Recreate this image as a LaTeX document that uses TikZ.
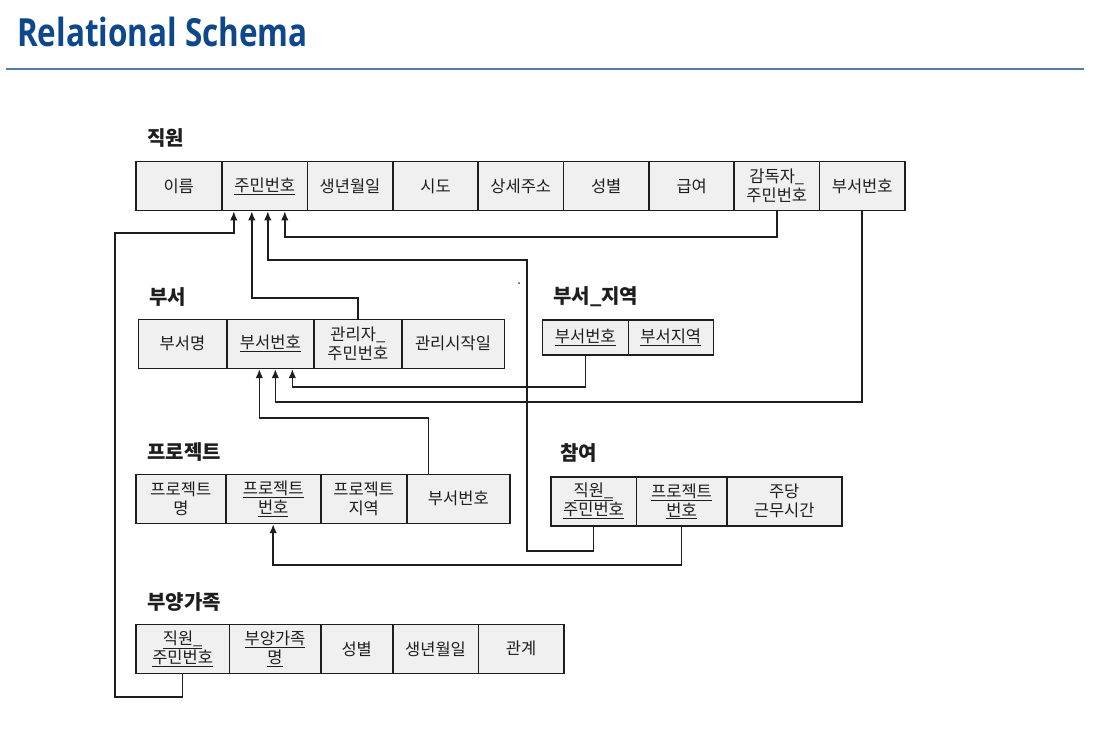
\documentclass[tikz,border=0pt]{standalone}
\usepackage{fontspec}
\usepackage{graphicx}
\usetikzlibrary{arrows.meta}
\setmainfont{Noto Sans CJK KR}
\newfontfamily\titlefont{Open Sans}
\definecolor{titleblue}{RGB}{14,72,140}
\definecolor{ruleblue}{RGB}{84,124,166}
\definecolor{cellgray}{RGB}{240,240,240}
\definecolor{ink}{RGB}{30,30,30}
\begin{document}
\begin{tikzpicture}[x=1pt,y=-1pt,
	cell/.style={draw=ink,fill=cellgray,line width=1.6pt,inner sep=0pt,minimum height=49pt,text=ink,align=center,font=\fontsize{16.5}{19}\selectfont},
	rel/.style={anchor=west,inner sep=0pt,text=ink,font=\fontsize{20}{24}\selectfont\bfseries},
	fk/.style={line width=1.6pt,draw=ink,-{Latex[length=9pt,width=7.5pt]}}]
		\fill[white](0,0)rectangle(1096,740);
		\useasboundingbox(0,0)rectangle(1096,740);
		\node[anchor=base west,inner sep=0pt,text=titleblue,font=\titlefont\bfseries\fontsize{38.8}{44}\selectfont](title)at(17,46.7){\scalebox{0.81}[1]{Relational Schema}};
		\draw[ruleblue,line width=1.4pt](6,69)--(1084,69);
		% 직원
		\node[rel](tjw)at(147,138){직원};
		\node[cell,minimum width=85.4pt](jw1)at(178.7,186){이름};
		\node[cell,minimum width=85.4pt](jw2)at(264.8,186){\underline{주민번호}};
		\node[cell,minimum width=85.4pt](jw3)at(350,186){생년월일};
		\node[cell,minimum width=85.4pt](jw4)at(435.5,186){시도};
		\node[cell,minimum width=85.4pt](jw5)at(520.8,186){상세주소};
		\node[cell,minimum width=85.4pt](jw6)at(606.2,186){성별};
		\node[cell,minimum width=85.4pt](jw7)at(691.7,186){급여};
		\node[cell,minimum width=85.4pt](jw8)at(776.8,186){감독자\_\\주민번호};
		\node[cell,minimum width=85.4pt](jw9)at(862.2,186){부서번호};
		% 부서
		\node[rel](tbs)at(149,297){부서};
		\node[cell,minimum width=88.4pt](bs1)at(182.5,343.8){부서명};
		\node[cell,minimum width=87.3pt](bs2)at(270.35,343.8){\underline{부서번호}};
		\node[cell,minimum width=87.7pt](bs3)at(357.85,343.8){관리자\_\\주민번호};
		\node[cell,minimum width=102.6pt](bs4)at(453,343.8){관리시작일};
		% 부서_지역
		\node[rel](tbj)at(553,297){부서\_지역};
		\node[cell,minimum width=86pt,minimum height=35pt](bj1)at(585.3,337.5){\underline{부서번호}};
		\node[cell,minimum width=85pt,minimum height=35pt](bj2)at(670.8,337.5){\underline{부서지역}};
		% 프로젝트
		\node[rel](tpj)at(147,452){프로젝트};
		\node[cell,minimum width=89.7pt](pj1)at(180.85,498.8){프로젝트\\명};
		\node[cell,minimum width=95pt](pj2)at(273.2,498.8){\underline{프로젝트}\\\underline{번호}};
		\node[cell,minimum width=86pt](pj3)at(363.7,498.8){프로젝트\\지역};
		\node[cell,minimum width=103.3pt](pj4)at(458.35,498.8){부서번호};
		% 참여
		\node[rel](tcy)at(560,453){참여};
		\node[cell,minimum width=85.6pt](cy1)at(593.5,501.2){\underline{직원\_}\\\underline{주민번호}};
		\node[cell,minimum width=90.4pt](cy2)at(681.5,501.2){\underline{프로젝트}\\\underline{번호}};
		\node[cell,minimum width=115pt](cy3)at(784.2,501.2){주당\\근무시간};
		% 부양가족
		\node[rel](tby)at(147,602){부양가족};
		\node[cell,minimum width=93.3pt](by1)at(182.65,648.8){\underline{직원\_}\\\underline{주민번호}};
		\node[cell,minimum width=91.4pt](by2)at(275,648.8){\underline{부양가족}\\\underline{명}};
		\node[cell,minimum width=72pt](by3)at(356.7,648.8){성별};
		\node[cell,minimum width=85.6pt](by4)at(435.5,648.8){생년월일};
		\node[cell,minimum width=85.7pt](by5)at(521.15,648.8){관계};
		% 외래키
		\coordinate(t1)at([xshift=-31pt]jw2.south);
		\coordinate(t2)at([xshift=-13pt]jw2.south);
		\coordinate(t3)at([xshift=3pt]jw2.south);
		\coordinate(t4)at([xshift=20pt]jw2.south);
		\coordinate(t5)at([xshift=22pt]bs2.south);
		\coordinate(t6)at([xshift=5pt]bs2.south);
		\coordinate(t7)at([xshift=-11pt]bs2.south);
		\coordinate(s7)at([xshift=-30pt]pj4.north);
		\coordinate(k1)at(115,697);
		\coordinate(k2)at(115,233);
		\coordinate(k3)at(0,298);
		\coordinate(k4)at(527,260);
		\coordinate(k5)at(527,551);
		\coordinate(k6)at(0,237);
		\coordinate(k7)at(0,387);
		\coordinate(k8)at(0,402);
		\coordinate(k9)at(0,418);
		\coordinate(k10)at(0,565);
		\draw[fk](by1.south)--(by1.south|-k1)--(k1)--(k2)--(t1|-k2)--(t1);
		\draw[fk](bs3.north)--(bs3.north|-k3)--(t2|-k3)--(t2);
		\draw[fk](cy1.south)--(cy1.south|-k5)--(k5)--(k4)--(t3|-k4)--(t3);
		\draw[fk](jw8.south)--(jw8.south|-k6)--(t4|-k6)--(t4);
		\draw[fk](bj1.south)--(bj1.south|-k7)--(t5|-k7)--(t5);
		\draw[fk](jw9.south)--(jw9.south|-k8)--(t6|-k8)--(t6);
		\draw[fk](s7)--(s7|-k9)--(t7|-k9)--(t7);
		\draw[fk](cy2.south)--(cy2.south|-k10)--(pj2.south|-k10)--(pj2.south);
		\fill[titleblue](519,283)circle(1pt);
	\end{tikzpicture}
\end{document}
